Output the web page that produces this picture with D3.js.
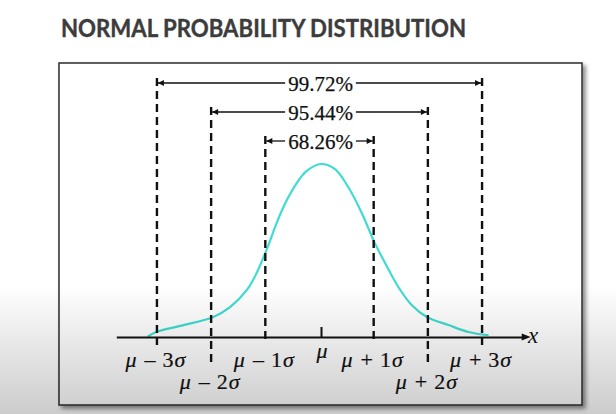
<!DOCTYPE html>
<html>
<head>
<meta charset="utf-8">
<script src="https://cdn.jsdelivr.net/npm/d3@7/dist/d3.min.js"></script>
<style>
  html, body { margin: 0; padding: 0; background: #fff; }
  svg { display: block; }
</style>
</head>
<body>
<svg id="chart" width="616" height="414"></svg>
<script>
// ---- data ----
const title = "NORMAL PROBABILITY DISTRIBUTION";
// standard-deviation positions of the marks and their labels
const tickValues = [-3, -2, -1, 0, 1, 2, 3];
const tickSign   = ["–", "–", "–", "", "+", "+", "+"];
const tickMult   = ["3", "2", "1", "", "1", "2", "3"];
// bracketed intervals (± k sigma) and their percentages
const intervalK      = [3, 2, 1];
const intervalLabels = ["99.72%", "95.44%", "68.26%"];
// curve: x in sigma units, height relative to the peak
const curveX = [-3.17, -3.0, -2.57, -1.96, -1.65, -1.34, -1.16, -0.945, -0.79, -0.605, -0.42, -0.236, 0.03,
                0.286, 0.53, 0.78, 1.01, 1.21, 1.455, 1.70, 1.98, 2.38, 2.75, 3.12];
const curveY = [0.003, 0.03, 0.064, 0.116, 0.173, 0.272, 0.37, 0.53, 0.66, 0.79, 0.89, 0.96, 1.0,
                0.97, 0.867, 0.717, 0.55, 0.428, 0.289, 0.185, 0.116, 0.069, 0.029, 0.01];

// ---- layout ----
const svg = d3.select("#chart");
const W = 616, H = 414;
const frame = {x: 59, y: 63, w: 523, h: 342};
const axisY = 337;
const serif = "'Liberation Serif', 'DejaVu Serif', serif";

const x = d3.scaleLinear().domain([-3.75, 3.75]).range([116.3, 522.7]);
const y = d3.scaleLinear().domain([0, 1]).range([axisY, 164]);

const defs = svg.append("defs");
const sh = defs.append("filter").attr("id", "shadow").attr("x", "-5%").attr("y", "-5%").attr("width", "112%").attr("height", "112%");
sh.append("feDropShadow").attr("dx", 3).attr("dy", 3).attr("stdDeviation", 2).attr("flood-color", "#000").attr("flood-opacity", 0.45);

defs.append("marker").attr("id", "arrowR").attr("viewBox", "0 0 10 10")
  .attr("refX", 10).attr("refY", 5).attr("markerUnits", "userSpaceOnUse")
  .attr("markerWidth", 8).attr("markerHeight", 6).attr("orient", "auto")
  .append("path").attr("d", "M0,0L10,5L0,10Z").attr("fill", "#111");

const g = defs.append("linearGradient").attr("id", "vign").attr("x1", 0).attr("y1", 0).attr("x2", 0).attr("y2", 1);
g.append("stop").attr("offset", "0%").attr("stop-color", "#000").attr("stop-opacity", 0);
g.append("stop").attr("offset", "100%").attr("stop-color", "#000").attr("stop-opacity", 0.2);

// background
svg.append("rect").attr("width", W).attr("height", H).attr("fill", "#fff");

// title
svg.append("text")
  .attr("x", 61).attr("y", 37)
  .attr("font-family", "Lato, 'Open Sans', sans-serif")
  .attr("font-weight", 700).attr("font-size", 24)
  .attr("fill", "#3c3c3c").attr("stroke", "#3c3c3c").attr("stroke-width", 0.4)
  .attr("textLength", 405).attr("lengthAdjust", "spacingAndGlyphs")
  .text(title);

// frame
svg.append("rect")
  .attr("x", frame.x).attr("y", frame.y).attr("width", frame.w).attr("height", frame.h)
  .attr("fill", "#fff").attr("stroke", "#3a3a3a").attr("stroke-width", 1.6)
  .attr("filter", "url(#shadow)");

// curve
const line = d3.line().x(d => x(d[0])).y(d => y(d[1])).curve(d3.curveCatmullRom.alpha(0.5));
svg.append("path")
  .datum(curveX.map((v, i) => [v, curveY[i]]))
  .attr("d", line)
  .attr("fill", "none").attr("stroke", "#3fdcd2").attr("stroke-width", 2.2);

// dashed verticals + interval arrows
const arrowY = k => 83 + (3 - k) * 29;
const bottomY = {1: 344, 2: 364, 3: 345};
intervalK.forEach((k, i) => {
  const yy = arrowY(k);
  [-k, k].forEach(s => {
    svg.append("line")
      .attr("x1", x(s)).attr("x2", x(s))
      .attr("y1", yy - 5).attr("y2", bottomY[k])
      .attr("stroke", "#111").attr("stroke-width", 2.4)
      .attr("stroke-dasharray", "8,5");
  });
  const t = svg.append("text")
    .attr("x", x(0) + 1).attr("y", yy + 7.5)
    .attr("text-anchor", "middle")
    .attr("font-family", serif)
    .attr("font-size", 21).attr("fill", "#111")
    .attr("stroke", "#111").attr("stroke-width", 0.25)
    .text(intervalLabels[i]);
  const tw = t.node().getComputedTextLength();
  const gap = 3;
  svg.append("line")
    .attr("x1", x(0) + 1 - tw / 2 - gap).attr("x2", x(-k) + 1)
    .attr("y1", yy).attr("y2", yy)
    .attr("stroke", "#111").attr("stroke-width", 1.3)
    .attr("marker-end", "url(#arrowR)");
  svg.append("line")
    .attr("x1", x(0) + 1 + tw / 2 + gap).attr("x2", x(k) - 1)
    .attr("y1", yy).attr("y2", yy)
    .attr("stroke", "#111").attr("stroke-width", 1.3)
    .attr("marker-end", "url(#arrowR)");
});

// axis
const axis = d3.axisBottom(x).tickValues(tickValues).tickSize(0).tickSizeOuter(0).tickFormat(() => "");
const ax = svg.append("g").attr("transform", `translate(0,${axisY})`).call(axis);
ax.select(".domain").attr("stroke", "#111").attr("stroke-width", 2);
// axis arrow head
svg.append("path")
  .attr("d", `M${x(3.75) - 1},${axisY - 3.5}L${x(3.75) + 8},${axisY}L${x(3.75) - 1},${axisY + 3.5}Z`)
  .attr("fill", "#111");
// mean tick
svg.append("line").attr("x1", x(0) + 2).attr("x2", x(0) + 2).attr("y1", axisY - 10).attr("y2", axisY)
  .attr("stroke", "#111").attr("stroke-width", 2);

// tick labels
ax.selectAll(".tick text").each(function(d, i) {
  const t = d3.select(this);
  t.text(null)
    .attr("font-family", serif)
    .attr("font-size", 22).attr("fill", "#111")
    .attr("stroke", "#111").attr("stroke-width", 0.2)
    .attr("text-anchor", "middle");
  const dy = d === 0 ? 21 : (Math.abs(d) === 2 ? 52 : 30);
  t.attr("y", dy).attr("dy", 0);
  if (d === 0) t.attr("x", 2);
  else t.attr("x", -2);
  t.append("tspan").attr("font-style", "italic").text("μ");
  if (tickSign[i]) {
    t.append("tspan").attr("dx", 8).text(tickSign[i]);
    t.append("tspan").attr("dx", 7).text(tickMult[i]);
    t.append("tspan").attr("dx", 1).attr("font-style", "italic").text("σ");
  }
});

// x label
svg.append("text").attr("x", 528).attr("y", 343)
  .attr("font-family", serif).attr("font-style", "italic")
  .attr("font-size", 23).attr("fill", "#111").text("x");

// lighting gradient at the bottom of the photo
svg.append("rect").attr("x", 0).attr("y", 285).attr("width", W).attr("height", H - 285)
  .attr("fill", "url(#vign)").attr("pointer-events", "none");
</script>
</body>
</html>
